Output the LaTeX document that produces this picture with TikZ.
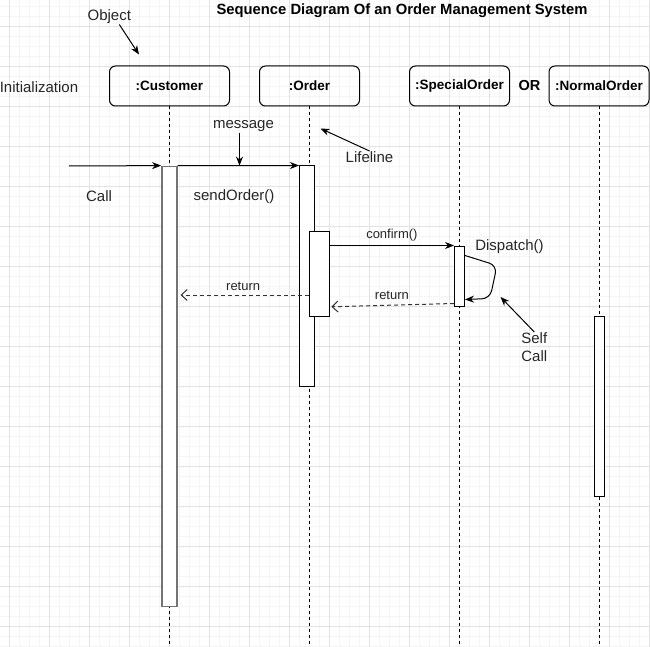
\documentclass[tikz,border=0pt]{standalone}
\usepackage{fontspec}
\setmainfont{Liberation Sans}
\usetikzlibrary{positioning, arrows.meta}

\begin{document}
\begin{tikzpicture}[x=1pt, y=-1pt, node distance=140pt, on grid,
    >={Stealth[length=9pt,width=7pt]}, line width=1pt,
    minorgrid/.style={black!4, line width=0.7pt},
    majorgrid/.style={black!11, line width=0.8pt},
    lbl/.style={font=\fontsize{15}{18}\selectfont, text=black!85, inner sep=0pt},
    small/.style={font=\fontsize{13}{15}\selectfont, text=black!85, inner sep=0pt},
    obj/.style={draw, rounded corners=6pt, minimum width=100pt, minimum height=40pt,
                inner sep=0pt, font=\fontsize{13.5}{16}\selectfont\bfseries},
    act/.style={draw, fill=white},
    life/.style={dash pattern=on 3pt off 3pt},
    msg/.style={->},
    ret/.style={-{Straight Barb[length=6pt,width=11pt]}, dash pattern=on 4pt off 3pt, black!80},
    note/.style={->}]
  \fill[white] (0,0) rectangle (650,647);
  \useasboundingbox (0,0) rectangle (650,647);
  % background grid
  \foreach \gx in {-1,9,...,649} \draw[minorgrid] (\gx,0) -- (\gx,647);
  \foreach \gy in {6,16,...,646} \draw[minorgrid] (0,\gy) -- (650,\gy);
  \foreach \gx in {9,49,...,649} \draw[majorgrid] (\gx,0) -- (\gx,647);
  \foreach \gy in {26,66,...,626} \draw[majorgrid] (0,\gy) -- (650,\gy);

  \node[font=\fontsize{14.8}{17}\selectfont\bfseries] (title) at (402,11)
    {Sequence Diagram Of an Order Management System};

  % objects
  \node[obj, minimum width=120pt] (cust) at (169.5,86) {:Customer};
  \node[obj, right=140pt of cust] (ord) {:Order};
  \node[obj, right=150pt of ord] (spec) {:SpecialOrder};
  \node[font=\fontsize{14.5}{16}\selectfont\bfseries, right=70pt of spec] (or) {OR};
  \node[obj, right=139.5pt of spec] (norm) {:NormalOrder};
  \node[lbl] (init) at (39,87) {Initialization};

  % lifelines
  \draw[life] (cust) -- (cust |- 0,647);
  \draw[life] (ord) -- (ord |- 0,647);
  \draw[life] (spec) -- (spec |- 0,647);
  \draw[life] (norm) -- (norm |- 0,647);

  % activations
  \node[act, draw=black!55, line width=1.4pt, minimum width=15pt, minimum height=440pt] (custact) at (169.3,386.3) {};
  \node[act, minimum width=15pt, minimum height=220pt] (ordact) at (307,276) {};
  \node[act, minimum width=20pt, minimum height=85pt] (ordsub) at (319.3,273.8) {};
  \node[act, minimum width=10pt, minimum height=60pt] (specact) at (459.5,276) {};
  \node[act, minimum width=10pt, minimum height=180pt] (normact) at (599.5,406) {};

  % messages
  \coordinate (callin) at (69,166);
  \draw[msg] (callin) -- (custact.north west);
  \node[lbl] (call) at (99,196.5) {Call};
  \draw[msg] (custact.north east) -- (ordact.north west);
  \node[lbl] (send) at (234,196.5) {sendOrder()};
  \draw[msg] (ordsub.east |- specact.north west) -- (specact.north west)
    node[small, midway, above=4pt] {confirm()};
  \draw[msg, rounded corners=8pt] ([yshift=-10pt]specact.north east) -- ++(32,10)
    -- ++(-7,33) -- ([yshift=7pt]specact.south east);
  \node[lbl] (disp) at (509.5,246.5) {Dispatch()};
  \draw[ret, shorten >=1.5pt] ([yshift=3pt]specact.south west) -- ([yshift=10pt]ordsub.south east)
    node[small, midway, above=5.5pt] {return};
  \draw[ret, shorten >=3pt] (ordsub.west |- 0,295) -- (custact.east |- 0,295)
    node[small, midway, above=4pt] {return};

  % annotations
  \node[lbl] (object) at (109.3,17) {Object};
  \draw[note] ([xshift=10pt]object.south) -- ([shift={(30pt,11pt)}]cust.north west);
  \node[lbl] (msglbl) at (243.5,126.5) {message};
  \draw[note] ([xshift=-4pt]msglbl.south) -- ([xshift=-4pt]msglbl.south |- custact.north);
  \node[lbl] (lifelbl) at (369.5,157) {Lifeline};
  \draw[note] (lifelbl.north) -- ([shift={(11pt,-22pt)}]ord.south);
  \node[lbl, align=center] (self) at (534.3,347) {Self\\Call};
  \draw[note] (self.north) -- ([shift={(35.5pt,9.5pt)}]specact.south east);
\end{tikzpicture}
\end{document}
